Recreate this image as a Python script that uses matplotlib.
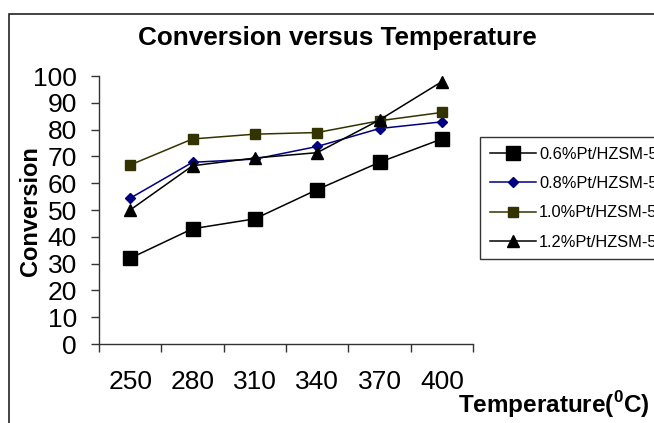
import matplotlib
matplotlib.use('Agg')
import matplotlib.pyplot as plt
from matplotlib.patches import Rectangle
from matplotlib.lines import Line2D

plt.rcParams['font.family'] = ['Liberation Sans', 'DejaVu Sans']
plt.rcParams['mathtext.fontset'] = 'custom'
plt.rcParams['mathtext.rm'] = 'Liberation Sans'
plt.rcParams['mathtext.bf'] = 'Liberation Sans:bold'

# Daten
temperaturen = ['250', '280', '310', '340', '370', '400']
pt06 = [32, 43, 46.7, 57.6, 67.8, 76.5]
pt08 = [54.4, 67.8, 69.0, 73.7, 80.4, 82.9]
pt10 = [66.8, 76.5, 78.3, 78.9, 83.3, 86.4]
pt12 = [50.0, 66.5, 69.4, 71.4, 83.6, 97.9]
namen = ['0.6%Pt/HZSM-5', '0.8%Pt/HZSM-5', '1.0%Pt/HZSM-5', '1.2%Pt/HZSM-5']

W, H = 654, 423
fig = plt.figure(figsize=(W / 100, H / 100), dpi=100)

# Rahmen um das Diagramm
fig.patches.append(Rectangle((9 / W, -0.1), 1.2, 1 - 14 / H + 0.1,
                             transform=fig.transFigure, fill=False,
                             edgecolor='#222222', linewidth=1.2))

ax = fig.add_axes([99 / W, 1 - 344 / H, (473 - 99) / W, (344 - 76) / H])
x = list(range(len(temperaturen)))

ax.plot(x, pt06, color='black', lw=1.1, marker='s', ms=10.5,
        markerfacecolor='black', markeredgecolor='black')
ax.plot(x, pt08, color='#000080', lw=1.1, marker='D', ms=5.5,
        markerfacecolor='#000080', markeredgecolor='#000080')
ax.plot(x, pt10, color='#333300', lw=1.1, marker='s', ms=6.5,
        markerfacecolor='#333300', markeredgecolor='#333300')
ax.plot(x, pt12, color='black', lw=1.1, marker='^', ms=8,
        markerfacecolor='black', markeredgecolor='black')

ax.set_xlim(-0.5, len(temperaturen) - 0.5)
ax.set_ylim(0, 100)
ax.set_yticks(range(0, 101, 10))
ax.set_xticks([i - 0.5 for i in range(len(temperaturen) + 1)])
ax.set_xticklabels([])
ax.set_xticks(x, minor=True)
ax.set_xticklabels(temperaturen, minor=True)

for s in ['top', 'right']:
    ax.spines[s].set_visible(False)
for s in ['left', 'bottom']:
    ax.spines[s].set_linewidth(1)
    ax.spines[s].set_color('#333333')

ax.tick_params(axis='y', direction='out', length=6, width=1, pad=10,
               labelsize=19, color='#333333')
ax.tick_params(axis='x', which='major', direction='out', length=6, width=1,
               color='#333333')
ax.tick_params(axis='x', which='minor', length=0, pad=19, labelsize=19)

fig.text(337 / W, 1 - 38 / H, 'Conversion versus Temperature',
         ha='center', va='center', fontsize=18.8, fontweight='bold')
fig.text(31 / W, 1 - 211 / H, 'Conversion', rotation=90,
         ha='center', va='center', fontsize=17, fontweight='bold')
fig.text(458 / W, 1 - 405 / H, r'Temperature($^{\mathbf{0}}$C)',
         ha='left', va='center', fontsize=17.5, fontweight='bold')

# Legende (rechts abgeschnitten wie im Original)
griffe = [
    Line2D([], [], color='black', lw=1.1, marker='s', ms=10.5),
    Line2D([], [], color='#000080', lw=1.1, marker='D', ms=5.5),
    Line2D([], [], color='#333300', lw=1.1, marker='s', ms=6.5),
    Line2D([], [], color='black', lw=1.1, marker='^', ms=8),
]
leg = fig.legend(griffe, namen, loc='upper left',
                 bbox_to_anchor=(480 / W, 1 - 137 / H),
                 fontsize=11.8, frameon=True, fancybox=False,
                 edgecolor='black', handlelength=2.8, handletextpad=0.2,
                 labelspacing=0.87, borderpad=0.6, borderaxespad=0)
leg.get_frame().set_linewidth(1)

fig.savefig('out.png', dpi=100)
